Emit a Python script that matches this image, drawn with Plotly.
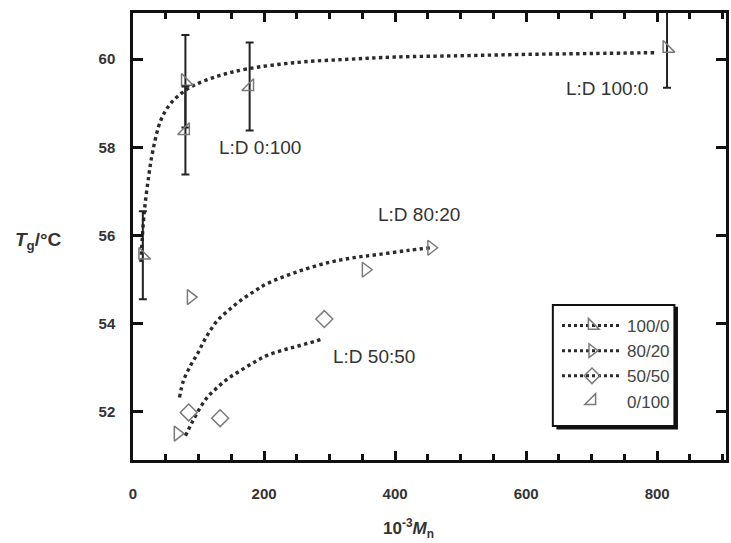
import plotly.graph_objects as go

# ---- data ----
# 100/0 (L:D 100:0) measured points with error bars
x_100 = [15, 80, 815]
y_100 = [55.55, 59.5, 60.25]
e_100 = [1.0, 1.05, 0.9]
# 0/100 (L:D 0:100)
x_0 = [80, 178]
y_0 = [58.38, 59.38]
e_0 = [1.0, 1.0]
# 80/20
x_80 = [68, 88, 355, 455]
y_80 = [51.5, 54.6, 55.22, 55.72]
# 50/50
x_50 = [85, 133, 292]
y_50 = [51.98, 51.85, 54.1]

# fitted curves
fit100_x = [12, 17, 24, 30, 42, 55, 70, 92, 130, 174, 252, 330, 400, 500, 600, 700, 800]
fit100_y = [55.4, 56.5, 57.35, 57.9, 58.6, 58.95, 59.18, 59.4, 59.62, 59.78, 59.93, 60.0, 60.05, 60.08, 60.11, 60.13, 60.15]
fit80_x = [71, 77, 88, 98, 112, 129, 146, 164, 185, 204, 250, 300, 340, 376, 420, 455]
fit80_y = [52.32, 52.7, 53.05, 53.3, 53.7, 54.07, 54.3, 54.52, 54.73, 54.9, 55.17, 55.39, 55.5, 55.57, 55.66, 55.72]
fit50_x = [80, 90, 103, 115, 129, 145, 164, 185, 204, 230, 255, 288]
fit50_y = [51.45, 51.75, 52.1, 52.35, 52.55, 52.75, 52.93, 53.12, 53.27, 53.4, 53.5, 53.64]

series_names = ["100/0", "80/20", "50/50", "0/100"]
labels = ["L:D 100:0", "L:D 0:100", "L:D 80:20", "L:D 50:50"]
label_x = [724, 194, 436, 368]
label_y = [59.34, 58.0, 56.48, 53.25]

LINE = "#2a2a2a"
MK = "#7a7a7a"
dot = dict(color=LINE, width=3.4, dash="dot")

fig = go.Figure()

# fitted curves
for fx, fy in [(fit100_x, fit100_y), (fit80_x, fit80_y), (fit50_x, fit50_y)]:
    fig.add_trace(go.Scatter(x=fx, y=fy, mode="lines", line=dict(shape="spline", **dot),
                             showlegend=False, hoverinfo="skip"))

err_style = dict(type="data", color="#222", thickness=2, width=4)
fig.add_trace(go.Scatter(x=x_100, y=y_100, mode="markers", showlegend=False,
                         error_y=dict(array=e_100, **err_style),
                         marker=dict(symbol="triangle-sw-open", size=13, color=MK, line=dict(width=1.5, color=MK))))
fig.add_trace(go.Scatter(x=x_0, y=y_0, mode="markers", showlegend=False,
                         error_y=dict(array=e_0, **err_style),
                         marker=dict(symbol="triangle-se-open", size=13, color=MK, line=dict(width=1.5, color=MK))))
fig.add_trace(go.Scatter(x=x_80, y=y_80, mode="markers", showlegend=False,
                         marker=dict(symbol="triangle-right-open", size=13, color=MK, line=dict(width=1.5, color=MK))))
fig.add_trace(go.Scatter(x=x_50, y=y_50, mode="markers", showlegend=False,
                         marker=dict(symbol="diamond-open", size=13, color=MK, line=dict(width=1.5, color=MK))))

# legend entries
leg_syms = ["triangle-sw-open", "triangle-right-open", "diamond-open", "triangle-se-open"]
leg_modes = ["lines+markers", "lines+markers", "lines+markers", "markers"]
for name, sym, mode in zip(series_names, leg_syms, leg_modes):
    fig.add_trace(go.Scatter(x=[None], y=[None], mode=mode, name=name,
                             line=dict(color=LINE, width=3, dash="dot"),
                             marker=dict(symbol=sym, size=12, color=MK, line=dict(width=1.5, color=MK))))

for t, lx, ly in zip(labels, label_x, label_y):
    fig.add_annotation(x=lx, y=ly, text=t, showarrow=False,
                       font=dict(family="Liberation Sans", size=19, color="#333"))

# legend shadow
fig.add_shape(type="rect", xref="paper", yref="paper", x0=0.714, x1=0.919, y0=0.068, y1=0.343,
              fillcolor="#111", line=dict(width=0), layer="below")
fig.add_shape(type="rect", xref="paper", yref="paper", x0=0.708, x1=0.913, y0=0.076, y1=0.347,
              fillcolor="white", line=dict(width=2, color="#111"), layer="below")

axis_font = dict(family="Liberation Sans", size=15, color="#333", weight="bold")
fig.update_layout(
    width=731, height=543,
    margin=dict(l=133, r=2, t=13, b=83),
    paper_bgcolor="white", plot_bgcolor="white",
    showlegend=True,
    legend=dict(x=0.715, y=0.34, xanchor="left", yanchor="top", bgcolor="rgba(0,0,0,0)",
                borderwidth=0, font=dict(family="Liberation Sans", size=17, color="#444"),
                tracegroupgap=4, itemwidth=60),
    xaxis=dict(range=[0, 905], tickvals=[0, 200, 400, 600, 800], ticks="inside", ticklen=9,
               tickwidth=2.5, tickcolor="#111", showline=True, linewidth=2.5, linecolor="#111",
               mirror="ticks", showgrid=False, zeroline=False, tickfont=axis_font,
               ticklabelstandoff=18,
               minor=dict(dtick=50, ticks="inside", ticklen=6, tickwidth=2.5, tickcolor="#111", showgrid=False)),
    yaxis=dict(range=[50.9, 61.05], tickvals=[52, 54, 56, 58, 60], ticks="inside", ticklen=10,
               tickwidth=2.5, tickcolor="#111", showline=True, linewidth=2.5, linecolor="#111",
               mirror="ticks", showgrid=False, zeroline=False, tickfont=axis_font,
               ticklabelstandoff=12),
)

fig.add_annotation(xref="paper", yref="paper", x=0.465, y=-0.12, yanchor="top",
                   text="<b>10<sup>-3</sup><i>M</i><sub>n</sub></b>", showarrow=False,
                   font=dict(family="Liberation Sans", size=17, color="#333"))
fig.add_annotation(xref="paper", yref="paper", x=-0.16, y=0.49, xanchor="center",
                   text="<b><i>T</i><sub>g</sub>/°C</b>", showarrow=False,
                   font=dict(family="Liberation Sans", size=19, color="#333"))

fig.write_html("out.html")
